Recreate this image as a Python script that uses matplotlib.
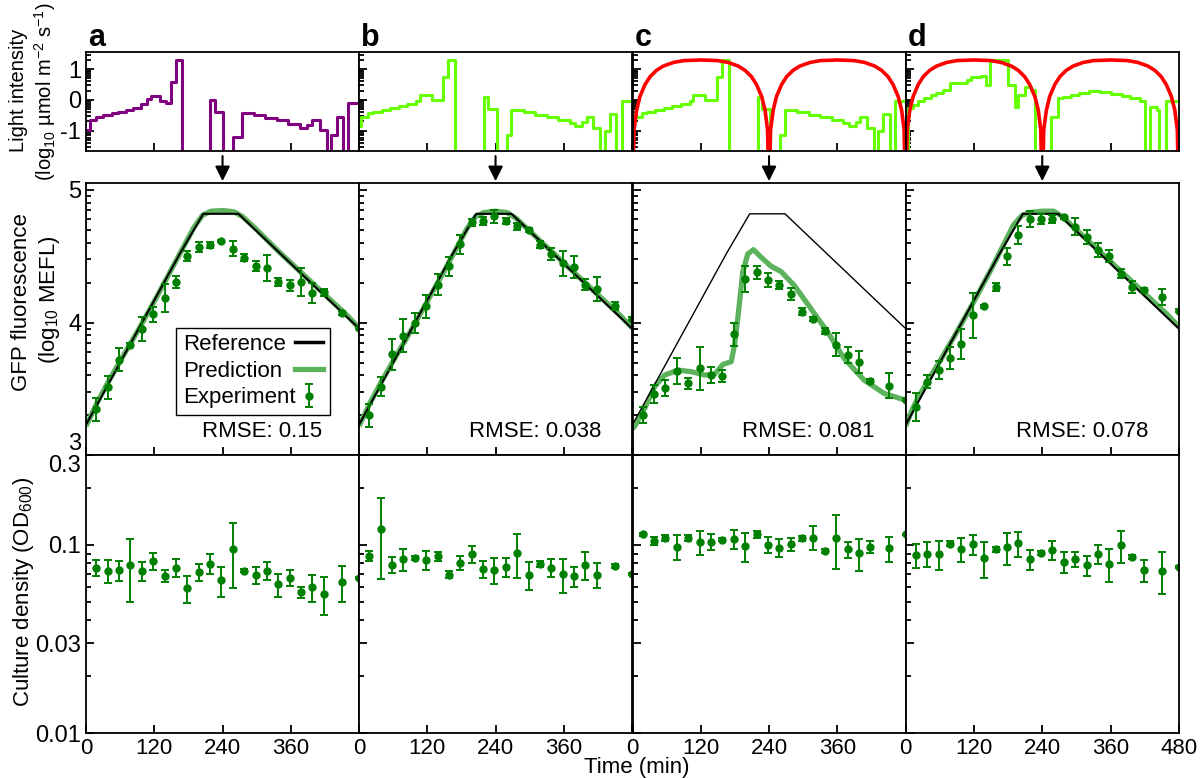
import numpy as np
import matplotlib
matplotlib.use('Agg')
import matplotlib.pyplot as plt
from matplotlib.lines import Line2D

plt.rcParams['font.family'] = ['Liberation Sans', 'DejaVu Sans']
plt.rcParams['mathtext.fontset'] = 'custom'
plt.rcParams['mathtext.rm'] = 'Liberation Sans'
plt.rcParams['mathtext.it'] = 'Liberation Sans:italic'
plt.rcParams['axes.unicode_minus'] = False

# ---------------- data ----------------
# sampling times of the experiment (min)
t_exp = [18, 38, 58, 78, 98, 118, 138, 158, 178, 198, 218, 238, 258, 278,
         298, 318, 338, 358, 378, 398, 418, 450, 480]

# light input, step profiles (log10 umol m-2 s-1), value holds from t on
light_a_t = [0, 7, 18, 30, 45, 57, 71, 83, 96, 107, 114, 130, 141, 149, 159, 168,
             218, 227, 241, 259, 274, 295, 315, 335, 355, 376, 388, 397, 411, 423,
             430, 441, 452, 461, 480]
light_a_v = [-0.98, -0.65, -0.56, -0.50, -0.44, -0.38, -0.32, -0.26, -0.14, 0.02, 0.13,
             -0.03, -0.11, 0.60, 1.30, -3.0, 0.00, -0.38, -3.0, -1.20, -0.43, -0.50,
             -0.58, -0.66, -0.78, -0.92, -0.81, -0.65, -0.98, -3.0, -1.14, -0.57,
             -3.0, -0.09, -0.09]
light_b_t = [0, 3.5, 16, 25, 40, 55, 70, 85, 101, 107, 128, 148, 157, 169, 220, 227,
             242, 260, 268, 290, 310, 330, 350, 370, 380, 392, 400, 412, 424, 432,
             441, 452, 462, 480]
light_b_v = [-0.85, -0.54, -0.43, -0.38, -0.32, -0.26, -0.20, -0.14, -0.03, 0.16, 0.00,
             0.76, 1.30, -3.0, 0.11, -0.30, -3.0, -1.14, -0.33, -0.40, -0.48, -0.56,
             -0.64, -0.74, -0.85, -0.71, -0.57, -0.92, -3.0, -1.00, -0.46, -3.0,
             -0.03, -0.03]
light_d_t = [0, 4, 13, 22, 33, 45, 54, 66, 77, 107, 115, 133, 142, 149, 180, 192,
             197, 209, 221, 227, 256, 268, 277, 290, 305, 323, 341, 360, 380, 395,
             411, 420, 429, 441, 446, 458, 480]
light_d_v = [-3.0, -0.27, -0.16, -0.05, 0.05, 0.16, 0.22, 0.33, 0.54, 0.65, 0.76, 0.78,
             0.49, 1.30, 0.49, -0.22, 0.16, 0.43, 0.33, -3.0, -0.54, 0.05, 0.10, 0.16,
             0.22, 0.30, 0.27, 0.20, 0.12, 0.05, -0.05, -3.0, -0.22, -0.33, -3.0,
             -0.03, -0.03]
# sinusoidal light (red) in panels c and d
sine_t = [0, 0.5, 2.6, 7.3, 13, 22, 31, 42, 54, 72, 90, 120, 150, 168, 186, 198, 209,
          218, 227, 233, 237.4, 239.5, 240, 240.5, 242.6, 247.3, 253, 262, 271, 282,
          294, 312, 330, 360, 390, 408, 426, 438, 449, 458, 467, 473, 477.4, 479.5, 480]
sine_v = [-3.0, -3.0, -0.98, -0.33, 0.11, 0.50, 0.76, 0.96, 1.10, 1.22, 1.28, 1.30,
          1.28, 1.22, 1.10, 0.96, 0.76, 0.50, 0.11, -0.33, -0.98, -3.0, -3.0, -3.0,
          -0.98, -0.33, 0.11, 0.50, 0.76, 0.96, 1.10, 1.22, 1.28, 1.30, 1.28, 1.22,
          1.10, 0.96, 0.76, 0.50, 0.11, -0.33, -0.98, -3.0, -3.0]

# reference trajectory (log10 MEFL)
ref_t = [0, 165, 206, 268, 480]
ref_y = [3.23, 4.52, 4.82, 4.82, 3.955]

# model predictions (log10 MEFL)
pred_t = [0, 10, 20, 40, 60, 90, 120, 150, 170, 190, 205, 220, 240, 260, 275, 300,
          340, 380, 420, 460, 480]
pred_a = [3.22, 3.31, 3.40, 3.56, 3.71, 3.93, 4.16, 4.40, 4.56, 4.72, 4.81, 4.84,
          4.845, 4.835, 4.80, 4.70, 4.53, 4.37, 4.21, 4.05, 3.96]
pred_b = [3.22, 3.31, 3.40, 3.56, 3.71, 3.93, 4.16, 4.39, 4.55, 4.71, 4.80, 4.83,
          4.84, 4.83, 4.79, 4.69, 4.53, 4.37, 4.21, 4.05, 3.96]
pred_d = [3.22, 3.33, 3.42, 3.57, 3.71, 3.93, 4.16, 4.40, 4.57, 4.74, 4.81, 4.83,
          4.84, 4.84, 4.80, 4.70, 4.54, 4.38, 4.22, 4.06, 3.97]
pred_c_t = [0, 4, 21.6, 39, 56.6, 80, 103.4, 126.7, 144, 158.8, 173.4, 179.3, 185,
            193.8, 202.6, 212.5, 226, 243.5, 261, 284.4, 313.6, 342.8, 372, 407,
            442, 480]
pred_c = [3.20, 3.22, 3.355, 3.518, 3.605, 3.642, 3.63, 3.605, 3.61, 3.685, 3.705,
          3.83, 4.03, 4.38, 4.518, 4.55, 4.493, 4.425, 4.385, 4.28, 4.105, 3.93,
          3.73, 3.567, 3.467, 3.415]

# measured GFP (log10 MEFL) and error
gfp_a = [3.347, 3.512, 3.722, 3.830, 3.955, 4.062, 4.185, 4.305, 4.50, 4.570, 4.583,
         4.615, 4.557, 4.49, 4.43, 4.41, 4.307, 4.28, 4.305, 4.222, 4.227, 4.07, 3.96]
gfp_a_err = [0.088, 0.085, 0.083, 0.013, 0.09, 0.055, 0.105, 0.043, 0.038, 0.035,
             0.023, 0.01, 0.055, 0.025, 0.038, 0.10, 0.028, 0.04, 0.105, 0.075, 0.025,
             0.015, 0.01]
gfp_b = [3.30, 3.517, 3.76, 3.90, 4.00, 4.122, 4.285, 4.423, 4.59, 4.755, 4.765, 4.80,
         4.765, 4.725, 4.70, 4.587, 4.518, 4.447, 4.418, 4.285, 4.255, 4.125, 4.03]
gfp_b_err = [0.083, 0.07, 0.118, 0.125, 0.075, 0.085, 0.078, 0.068, 0.07, 0.028,
             0.028, 0.048, 0.02, 0.028, 0.015, 0.028, 0.043, 0.093, 0.083, 0.04, 0.09,
             0.033, 0.01]
gfp_c = [3.305, 3.46, 3.505, 3.637, 3.542, 3.655, 3.605, 3.597, 3.912, 4.33, 4.38,
         4.32, 4.28, 4.215, 4.083, 4.027, 3.937, 3.835, 3.755, 3.705, 3.56, 3.525, 3.42]
gfp_c_err = [0.06, 0.068, 0.06, 0.10, 0.04, 0.163, 0.06, 0.045, 0.085, 0.098, 0.048,
             0.055, 0.03, 0.048, 0.025, 0.013, 0.02, 0.083, 0.063, 0.083, 0.013, 0.093,
             0.01]
gfp_d = [3.367, 3.555, 3.642, 3.73, 3.837, 4.055, 4.122, 4.268, 4.50, 4.662, 4.78,
         4.78, 4.78, 4.793, 4.723, 4.643, 4.548, 4.503, 4.368, 4.268, 4.248, 4.193, 4.09]
gfp_d_err = [0.105, 0.05, 0.07, 0.083, 0.113, 0.168, 0.013, 0.028, 0.063, 0.068, 0.058,
             0.035, 0.03, 0.013, 0.063, 0.053, 0.05, 0.048, 0.035, 0.048, 0.013, 0.063,
             0.01]

# culture density (OD600) and error
od_a = [0.0755, 0.0731, 0.0734, 0.0787, 0.0731, 0.0824, 0.0687, 0.0758, 0.059, 0.0719,
        0.0797, 0.0648, 0.0952, 0.0731, 0.0693, 0.0731, 0.0617, 0.067, 0.0559, 0.0597,
        0.0549, 0.0635, 0.0667]
od_a_err = [0.0075, 0.0105, 0.0093, 0.0287, 0.0085, 0.0085, 0.0048, 0.0083, 0.0096,
            0.0077, 0.0097, 0.012, 0.0365, 0.001, 0.007, 0.0079, 0.0088, 0.0062,
            0.0037, 0.0097, 0.0123, 0.014, 0.001]
od_b = [0.0876, 0.1219, 0.0787, 0.0841, 0.0855, 0.0831, 0.0869, 0.0696, 0.0807, 0.0898,
        0.0743, 0.0734, 0.0762, 0.091, 0.0696, 0.0794, 0.0758, 0.0701, 0.0681, 0.0787,
        0.0696, 0.0771, 0.0701]
od_b_err = [0.0056, 0.0556, 0.008, 0.011, 0.002, 0.0097, 0.0047, 0.003, 0.0071, 0.0092,
            0.0078, 0.0114, 0.009, 0.024, 0.0118, 0.003, 0.0081, 0.0146, 0.008, 0.0134,
            0.0107, 0.002, 0.001]
od_c = [0.1141, 0.1051, 0.1095, 0.098, 0.1095, 0.1042, 0.1042, 0.1064, 0.1073, 0.0988,
        0.1141, 0.1, 0.0968, 0.1008, 0.1086, 0.1095, 0.0932, 0.1095, 0.0948, 0.0902,
        0.098, 0.096, 0.1141]
od_c_err = [0.002, 0.0054, 0.004, 0.0147, 0.004, 0.0152, 0.0103, 0.002, 0.0123, 0.0173,
            0.0047, 0.0097, 0.0103, 0.0075, 0.003, 0.016, 0.002, 0.0347, 0.0094, 0.0173,
            0.007, 0.0148, 0.001]
od_d = [0.0884, 0.0898, 0.0895, 0.1017, 0.0952, 0.1008, 0.0855, 0.0948, 0.0972, 0.1021,
        0.0838, 0.091, 0.094, 0.0814, 0.0841, 0.0781, 0.0898, 0.0794, 0.1, 0.0862,
        0.0734, 0.0731, 0.0765]
od_d_err = [0.0125, 0.0134, 0.0157, 0.003, 0.0143, 0.0126, 0.0185, 0.003, 0.019, 0.0158,
            0.0101, 0.002, 0.011, 0.0107, 0.0074, 0.0093, 0.0105, 0.0159, 0.0194, 0.002,
            0.0102, 0.0182, 0.001]

rmse = ['0.15', '0.038', '0.081', '0.078']
letters = ['a', 'b', 'c', 'd']

# ---------------- figure ----------------
W, H = 1201, 778
fig = plt.figure(figsize=(W / 100, H / 100), dpi=100)
col_x = [86, 359, 632.5, 905.7]
col_w = 273.1

c_pred = '#5DB35D'
c_exp = 'green'
c_lime = '#66FF00'
narrow = ['Liberation Sans Narrow', 'Liberation Sans']


def add_ax(x0, top, bottom):
    return fig.add_axes([x0 / W, 1 - bottom / H, col_w / W, (bottom - top) / H])


def style(ax):
    for s in ax.spines.values():
        s.set_linewidth(1.3)
    ax.tick_params(which='both', direction='in', top=False, right=False, width=1.3)
    ax.tick_params(which='major', length=6, labelsize=17)
    ax.tick_params(which='minor', length=3.5)
    ax.set_xlim(0, 480)
    ax.set_xticks([0, 120, 240, 360, 480])


light_sets = [(light_a_t, light_a_v, 'purple'), (light_b_t, light_b_v, c_lime),
              (light_b_t, light_b_v, c_lime), (light_d_t, light_d_v, c_lime)]
preds = [(pred_t, pred_a), (pred_t, pred_b), (pred_c_t, pred_c), (pred_t, pred_d)]
gfps = [(gfp_a, gfp_a_err), (gfp_b, gfp_b_err), (gfp_c, gfp_c_err), (gfp_d, gfp_d_err)]
ods = [(od_a, od_a_err), (od_b, od_b_err), (od_c, od_c_err), (od_d, od_d_err)]

legend_handle = None
for i in range(4):
    x0 = col_x[i]
    # light
    ax1 = add_ax(x0, 52.3, 150.7)
    style(ax1)
    lt, lv, lc = light_sets[i]
    ax1.step(lt, lv, where='post', color=lc, lw=2.2)
    if i >= 2:
        ax1.plot(sine_t, sine_v, color='red', lw=2.6)
    ax1.set_ylim(-1.65, 1.55)
    ax1.set_yticks([-1, 0, 1])
    ax1.set_yticks([n + np.log10(k) for n in (-2, -1, 0, 1) for k in range(2, 10)
                    if -1.65 < n + np.log10(k) < 1.55], minor=True)
    ax1.set_xticklabels([])

    # gfp
    ax2 = add_ax(x0, 183.3, 455.3)
    style(ax2)
    pt, pv = preds[i]
    ax2.plot(pt, pv, color=c_pred, lw=3.8, solid_capstyle='butt')
    ax2.plot(ref_t, ref_y, color='k', lw=1.0 if i == 2 else 1.5)
    gv, ge = gfps[i]
    eb = ax2.errorbar(t_exp, gv, yerr=ge, fmt='o', color=c_exp, ms=5, capsize=3,
                      elinewidth=1.4, capthick=1.4)
    if i == 0:
        legend_handle = eb
    ax2.set_ylim(3.0, 5.05)
    ax2.set_yticks([3, 4, 5])
    ax2.set_yticks([n + np.log10(k) for n in (3, 4) for k in range(2, 10)], minor=True)
    ax2.set_xticklabels([])
    ax2.text(0.645, 0.086, 'RMSE: ' + rmse[i], transform=ax2.transAxes,
             ha='center', va='center', fontsize=16)
    ax2.annotate('', xy=(240, 1.008), xytext=(240, 1.10),
                 xycoords=('data', 'axes fraction'),
                 arrowprops=dict(arrowstyle='-|>', color='k', lw=1.5,
                                 mutation_scale=22, shrinkA=0, shrinkB=0))

    # culture density
    ax3 = add_ax(x0, 455.3, 733)
    style(ax3)
    ov, oe = ods[i]
    ax3.errorbar(t_exp, ov, yerr=oe, fmt='o', color=c_exp, ms=5, capsize=3,
                 elinewidth=1.4, capthick=1.4)
    ax3.set_yscale('log')
    ax3.set_ylim(0.01, 0.3)
    ax3.set_yticks([0.01, 0.03, 0.1, 0.3])
    ax3.set_yticks([0.02, 0.04, 0.05, 0.06, 0.07, 0.08, 0.09, 0.2], minor=True)
    ax3.set_xlim(0, 480)
    ax3.set_xticks([0, 120, 240, 360, 480])
    xl = ['0', '120', '240', '360', '480' if i == 3 else '']
    ax3.set_xticklabels(xl, fontsize=16, family=narrow)
    ax3.yaxis.set_minor_formatter(plt.NullFormatter())

    if i == 0:
        ax3.set_yticklabels(['0.01', '0.03', '0.1', '0.3'])
        ax3.get_yticklabels()[-1].set_va('top')
        ax2.get_yticklabels()[0].set_va('bottom')
        leg = ax2.legend([Line2D([], [], color='k', lw=2.5),
                          Line2D([], [], color=c_pred, lw=3.8), legend_handle],
                         ['Reference', 'Prediction', 'Experiment'],
                         loc='lower right', bbox_to_anchor=(0.892, 0.148),
                         markerfirst=False, fontsize=16, fancybox=False, framealpha=1,
                         edgecolor='k', handlelength=1.25, labelspacing=0.25,
                         borderpad=0.3, handletextpad=0.6, borderaxespad=0)
        # text left aligned, handles flush right
        for col in leg._legend_handle_box.get_children():
            for item in col.get_children():
                item.mode = 'expand'
                item.width = 140
    else:
        for ax in (ax1, ax2, ax3):
            ax.set_yticklabels([])

    fig.text((x0 + 2) / W, 1 - 38 / H, letters[i], fontsize=22, fontweight='bold',
             ha='left', va='center')

fig.text(19 / W, 1 - 90 / H, 'Light intensity', rotation=90, ha='center',
         va='center', fontsize=14.5)
fig.text(45 / W, 1 - 92 / H, '(log$_{10}$ µmol m$^{-2}$ s$^{-1}$)', rotation=90,
         ha='center', va='center', fontsize=14.5)
fig.text(22 / W, 1 - 302 / H, 'GFP fluorescence', rotation=90, ha='center',
         va='center', fontsize=16)
fig.text(50 / W, 1 - 300 / H, '(log$_{10}$ MEFL)', rotation=90, ha='center',
         va='center', fontsize=16)
fig.text(24 / W, 1 - 592 / H, 'Culture density (OD$_{600}$)', rotation=90,
         ha='center', va='center', fontsize=16)
fig.text(637 / W, 1 - 768 / H, 'Time (min)', ha='center', va='center', fontsize=16,
         family=narrow)

fig.savefig('out.png', dpi=100)
